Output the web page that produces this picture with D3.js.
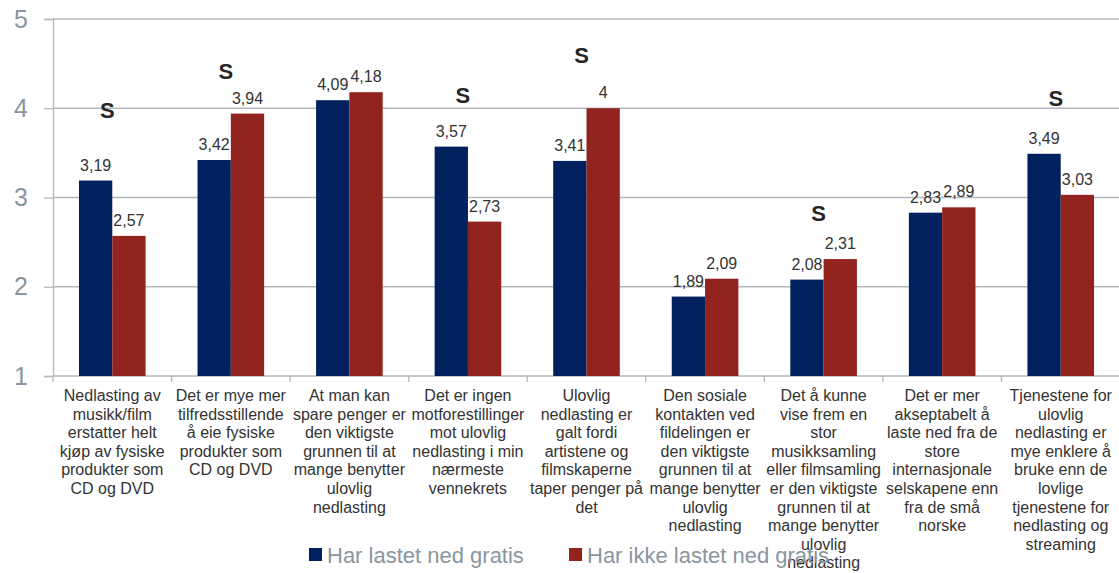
<!DOCTYPE html>
<html><head><meta charset="utf-8">
<script src="https://cdn.jsdelivr.net/npm/d3@7"></script>
<style>body{margin:0;background:#fff}svg{display:block;font-family:"Liberation Sans",Arial,sans-serif}</style>
</head><body><svg id="c" width="1119" height="573"></svg>
<script>
const categories = [
  "Nedlasting av\nmusikk/film\nerstatter helt\nkjøp av fysiske\nprodukter som\nCD og DVD",
  "Det er mye mer\ntilfredsstillende\nå eie fysiske\nprodukter som\nCD og DVD",
  "At man kan\nspare penger er\nden viktigste\ngrunnen til at\nmange benytter\nulovlig\nnedlasting",
  "Det er ingen\nmotforestillinger\nmot ulovlig\nnedlasting i min\nnærmeste\nvennekrets",
  "Ulovlig\nnedlasting er\ngalt fordi\nartistene og\nfilmskaperne\ntaper penger på\ndet",
  "Den sosiale\nkontakten ved\nfildelingen er\nden viktigste\ngrunnen til at\nmange benytter\nulovlig\nnedlasting",
  "Det å kunne\nvise frem en\nstor\nmusikksamling\neller filmsamling\ner den viktigste\ngrunnen til at\nmange benytter\nulovlig\nnedlasting",
  "Det er mer\nakseptabelt å\nlaste ned fra de\nstore\ninternasjonale\nselskapene enn\nfra de små\nnorske",
  "Tjenestene for\nulovlig\nnedlasting er\nmye enklere å\nbruke enn de\nlovlige\ntjenestene for\nnedlasting og\nstreaming"
];
const seriesNames = ["Har lastet ned gratis", "Har ikke lastet ned gratis"];
const lastetNed = [3.19, 3.42, 4.09, 3.57, 3.41, 1.89, 2.08, 2.83, 3.49];
const ikkeLastetNed = [2.57, 3.94, 4.18, 2.73, 4, 2.09, 2.31, 2.89, 3.03];
// significance marker "S" and the value level it is shown at (null = none)
const sigMarker = [3.98, 4.42, null, 4.15, 4.6, null, 2.83, null, 4.11];
const yTicks = [1, 2, 3, 4, 5];

const colors = ["#00215e", "#93231f"];
const svg = d3.select("#c");
const m = {l: 53};
const W = 1119;
const x = d3.scaleBand().domain(d3.range(categories.length)).range([m.l, 1120]).padding(0);
const y = d3.scaleLinear().domain([1, 5]).range([376, 19]);
const inner = d3.scaleBand().domain([0, 1]).range([0, x.bandwidth()]).paddingOuter(0.78).paddingInner(0);

// gridlines
svg.append("g").selectAll("line").data(yTicks.slice(1)).join("line")
  .attr("x1", m.l).attr("x2", W).attr("y1", d => y(d)).attr("y2", d => y(d))
  .attr("stroke", "#b3b8bd").attr("stroke-width", 1.3);

// y axis
const ya = svg.append("g").attr("transform", `translate(${m.l},0)`)
  .call(d3.axisLeft(y).tickValues(yTicks).tickSize(9).tickPadding(16).tickFormat(d3.format("d")));
ya.select(".domain").attr("stroke", "#b3b8bd").attr("stroke-width", 1.3);
ya.selectAll(".tick line").attr("stroke", "#b3b8bd").attr("stroke-width", 1.3);
ya.selectAll("text").attr("fill", "#8a959f").attr("font-size", 25).attr("font-family", "Liberation Sans, Arial, sans-serif");

// x axis
const xa = svg.append("g").attr("transform", `translate(0,${y(1)})`);
xa.append("line").attr("x1", m.l).attr("x2", W).attr("stroke", "#b3b8bd").attr("stroke-width", 1.3);
xa.selectAll(".tk").data(d3.range(categories.length + 1)).join("line")
  .attr("x1", d => m.l + d * x.step()).attr("x2", d => m.l + d * x.step())
  .attr("y1", 0).attr("y2", 6).attr("stroke", "#b3b8bd").attr("stroke-width", 1.3);

// category labels
const cl = svg.append("g").selectAll("text").data(categories).join("text")
  .attr("x", (d, i) => x(i) + x.bandwidth() / 2).attr("y", 401)
  .attr("text-anchor", "middle").attr("font-size", 16).attr("fill", "#333");
cl.each(function(d, i) {
  d3.select(this).selectAll("tspan").data(d.split("\n")).join("tspan")
    .attr("x", x(i) + x.bandwidth() / 2).attr("dy", (t, j) => j === 0 ? 0 : 18.6).text(t => t);
});

// bars
const series = [lastetNed, ikkeLastetNed];
const fmt = v => String(v).replace(".", ",");
series.forEach((vals, s) => {
  const g = svg.append("g");
  g.selectAll("rect").data(vals).join("rect")
    .attr("x", (d, i) => x(i) + inner(s)).attr("width", inner.bandwidth())
    .attr("y", d => y(d)).attr("height", d => y(1) - y(d))
    .attr("fill", colors[s]);
  g.selectAll("text").data(vals).join("text")
    .attr("x", (d, i) => x(i) + inner(s) + inner.bandwidth() / 2)
    .attr("y", d => y(d) - 10)
    .attr("text-anchor", "middle").attr("font-size", 16).attr("fill", "#333")
    .text(fmt);
});

// significance markers
svg.append("g").selectAll("text").data(sigMarker.map((v, i) => ({v, i})).filter(d => d.v != null)).join("text")
  .attr("x", d => x(d.i) + x.bandwidth() / 2 - 5).attr("y", d => y(d.v) + 8)
  .attr("text-anchor", "middle").attr("font-size", 22).attr("font-weight", "bold").attr("fill", "#262626")
  .text("S");

// legend
const legX = [309, 569];
const lg = svg.append("g").selectAll("g").data(seriesNames).join("g")
  .attr("transform", (d, i) => `translate(${legX[i]},548)`);
lg.append("rect").attr("width", 13).attr("height", 13).attr("fill", (d, i) => colors[i]);
lg.append("text").attr("x", 18).attr("y", 14.5).attr("font-size", 22).attr("fill", "#8a959f").text(d => d);
</script></body></html>
